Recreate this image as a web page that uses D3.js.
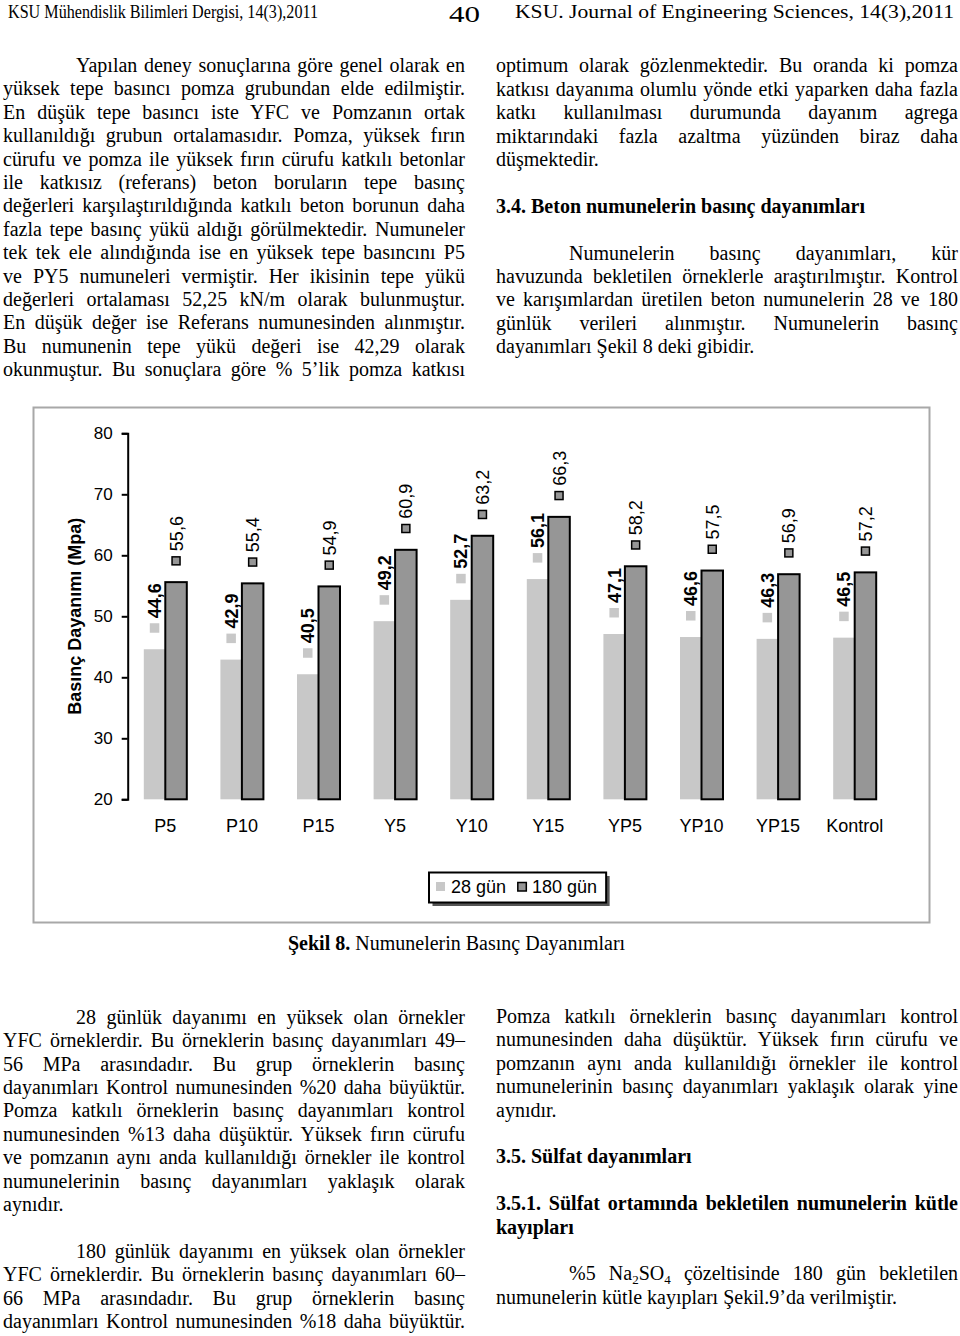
<!DOCTYPE html>
<html><head><meta charset="utf-8">
<script src="https://cdn.jsdelivr.net/npm/d3@7"></script>
<style>
html,body{margin:0;padding:0;background:#fff;}
body{width:960px;height:1336px;position:relative;overflow:hidden;}
.ln{position:absolute;font-family:"Liberation Serif","Times New Roman",serif;font-size:20px;line-height:23.4px;white-space:nowrap;color:#000;}
.b{font-weight:bold;}
.sub{font-size:13px;position:relative;top:4px;}
svg{position:absolute;left:0;top:0;}
</style></head><body>
<script>
// ---- chart data ----
const categories = ["P5","P10","P15","Y5","Y10","Y15","YP5","YP10","YP15","Kontrol"];
const days28  = [44.6,42.9,40.5,49.2,52.7,56.1,47.1,46.6,46.3,46.5];
const days180 = [55.6,55.4,54.9,60.9,63.2,66.3,58.2,57.5,56.9,57.2];
const seriesNames = ["28 gün","180 gün"];
const yTicks = [20,30,40,50,60,70,80];
const yTitle = "Basınç Dayanımı (Mpa)";
const caption = ["Şekil 8.", " Numunelerin Basınç Dayanımları"];

// ---- page text ----
const headerLeft = "KSU Mühendislik Bilimleri Dergisi, 14(3),2011";
const headerMid = "40";
const headerRight = "KSU. Journal of Engineering Sciences, 14(3),2011";

const topLeft = [
 ["ji","Yapılan deney sonuçlarına göre genel olarak en"],
 ["j","yüksek tepe basıncı pomza grubundan elde edilmiştir."],
 ["j","En düşük tepe basıncı iste YFC ve Pomzanın ortak"],
 ["j","kullanıldığı grubun ortalamasıdır. Pomza, yüksek fırın"],
 ["j","cürufu ve pomza ile yüksek fırın cürufu katkılı betonlar"],
 ["j","ile katkısız (referans) beton boruların tepe basınç"],
 ["j","değerleri karşılaştırıldığında katkılı beton borunun daha"],
 ["j","fazla tepe basınç yükü aldığı görülmektedir. Numuneler"],
 ["j","tek tek ele alındığında ise en yüksek tepe basıncını P5"],
 ["j","ve PY5 numuneleri vermiştir. Her ikisinin tepe yükü"],
 ["j","değerleri ortalaması 52,25 kN/m olarak bulunmuştur."],
 ["j","En düşük değer ise Referans numunesinden alınmıştır."],
 ["j","Bu numunenin tepe yükü değeri ise 42,29 olarak"],
 ["j","okunmuştur. Bu sonuçlara göre % 5’lik pomza katkısı"]
];
const topRight = [
 ["j","optimum olarak gözlenmektedir. Bu oranda ki pomza"],
 ["j","katkısı dayanıma olumlu yönde etki yaparken daha fazla"],
 ["j","katkı kullanılması durumunda dayanım agrega"],
 ["j","miktarındaki fazla azaltma yüzünden biraz daha"],
 ["l","düşmektedir."],
 ["",""],
 ["h","3.4. Beton numunelerin basınç dayanımları"],
 ["",""],
 ["ji","Numunelerin basınç dayanımları, kür"],
 ["j","havuzunda bekletilen örneklerle araştırılmıştır. Kontrol"],
 ["j","ve karışımlardan üretilen beton numunelerin 28 ve 180"],
 ["j","günlük verileri alınmıştır. Numunelerin basınç"],
 ["l","dayanımları Şekil 8 deki gibidir."]
];
const botLeft = [
 ["ji","28 günlük dayanımı en yüksek olan örnekler"],
 ["j","YFC örneklerdir. Bu örneklerin basınç dayanımları 49–"],
 ["j","56 MPa arasındadır. Bu grup örneklerin basınç"],
 ["j","dayanımları Kontrol numunesinden %20 daha büyüktür."],
 ["j","Pomza katkılı örneklerin basınç dayanımları kontrol"],
 ["j","numunesinden %13  daha düşüktür. Yüksek fırın cürufu"],
 ["j","ve pomzanın aynı anda kullanıldığı örnekler ile kontrol"],
 ["j","numunelerinin basınç dayanımları yaklaşık olarak"],
 ["l","aynıdır."],
 ["",""],
 ["ji","180 günlük dayanımı en yüksek olan örnekler"],
 ["j","YFC örneklerdir. Bu örneklerin basınç dayanımları 60–"],
 ["j","66 MPa arasındadır. Bu grup örneklerin basınç"],
 ["j","dayanımları Kontrol numunesinden %18 daha büyüktür."]
];
const botRight = [
 ["j","Pomza katkılı örneklerin basınç dayanımları kontrol"],
 ["j","numunesinden daha düşüktür. Yüksek fırın cürufu ve"],
 ["j","pomzanın aynı anda kullanıldığı örnekler ile kontrol"],
 ["j","numunelerinin basınç dayanımları yaklaşık olarak yine"],
 ["l","aynıdır."],
 ["",""],
 ["h","3.5. Sülfat dayanımları"],
 ["",""],
 ["hj","3.5.1. Sülfat ortamında bekletilen numunelerin kütle"],
 ["h","kayıpları"],
 ["",""],
 ["jiS","%5 Na|2|SO|4| çözeltisinde 180 gün bekletilen"],
 ["l","numunelerin kütle kayıpları Şekil.9’da verilmiştir."]
];

const body = d3.select("body");
const LH = 23.4, ASC = 18.45, COLW = 462, IND = 73;

function block(lines, x, base0){
  lines.forEach((ln,i)=>{
    const [type, txt] = ln;
    if(!type) return;
    const ind = type.includes("i") ? IND : 0;
    const div = body.append("div").attr("class","ln" + (type.includes("h") ? " b" : ""))
      .style("left",(x+ind)+"px").style("top",(base0 + i*LH - ASC)+"px");
    if(type.includes("S")){
      txt.split("|").forEach((p,k)=>{
        div.append("span").attr("class", k%2 ? "sub" : null).text(p);
      });
    } else div.text(txt);
    if(type.includes("j")){
      const W = COLW - ind;
      const nat = div.node().getBoundingClientRect().width;
      const n = (txt.replace(/\s+/g," ").match(/ /g)||[]).length;
      if(n>0) div.style("word-spacing", ((W-nat)/n)+"px");
    }
  });
}
block(topLeft, 3, 72.5);
block(topRight, 496, 72.8);
block(botLeft, 3, 1024.3);
block(botRight, 496, 1023.5);

// caption
const cap = body.append("div").attr("class","ln").style("left","288px").style("top",(950-ASC)+"px");
cap.append("span").attr("class","b").text(caption[0]);
cap.append("span").text(caption[1]);

// ---- SVG: header + chart ----
const svg = body.append("svg").attr("width",960).attr("height",1336);
const serif = "'Liberation Serif','Times New Roman',serif";
const sans = "'Liberation Sans',Arial,Helvetica,sans-serif";
svg.append("text").attr("x",8).attr("y",17.5).attr("font-family",serif).attr("font-size",18)
  .attr("textLength",310).attr("lengthAdjust","spacingAndGlyphs").text(headerLeft);
svg.append("text").attr("x",449).attr("y",22).attr("font-family",serif).attr("font-size",24)
  .attr("textLength",31).attr("lengthAdjust","spacingAndGlyphs").text(headerMid);
svg.append("text").attr("x",515).attr("y",17.5).attr("font-family",serif).attr("font-size",18)
  .attr("textLength",439).attr("lengthAdjust","spacingAndGlyphs").text(headerRight);

// frame
svg.append("rect").attr("x",33.5).attr("y",407.5).attr("width",896).attr("height",515)
  .attr("fill","none").attr("stroke","#a8a8a8").attr("stroke-width",2);

const y = d3.scaleLinear().domain([20,80]).range([799.3,433.3]);
const x0 = d3.scaleBand().domain(categories).range([127,893]);
const BW = 21.5;
const colors = ["#c8c8c8","#969696"];
const rows = categories.map((c,i)=>({c, vals:[days28[i], days180[i]]}));
const flat = [];
rows.forEach(r=>r.vals.forEach((v,s)=>flat.push({c:r.c, v, s})));
const cx = d => x0(d.c) + x0.bandwidth()/2 + (d.s===0 ? -BW/2 : BW/2);
const fmt = v => d3.format(".1f")(v).replace(".",",");

const g = svg.append("g");
// bars
g.selectAll("rect.bar").data(flat.slice().sort((a,b)=>a.s-b.s)).join("rect").attr("class","bar")
  .attr("x", d => cx(d) - BW/2).attr("width", BW)
  .attr("y", d => y(d.v)).attr("height", d => y(20) - y(d.v))
  .attr("fill", d => colors[d.s])
  .attr("stroke", d => d.s ? "#000" : "none").attr("stroke-width", 2);

// labels
const lbl = g.selectAll("g.lbl").data(flat).join("g").attr("class","lbl")
  .attr("transform", d => `translate(${cx(d)},${y(d.v)}) rotate(-90)`);
lbl.append("rect")
  .attr("x", d => d.s ? 17.3 : 16.5).attr("y", d => d.s ? -4 : -4.75)
  .attr("width", d => d.s ? 8 : 9.5).attr("height", d => d.s ? 8 : 9.5)
  .attr("fill", d => colors[d.s]).attr("stroke", d => d.s ? "#000" : "none").attr("stroke-width",1.5);
lbl.append("text").attr("x",31).attr("dy","0.36em")
  .attr("font-family",sans).attr("font-size",18).attr("font-weight", d => d.s ? "normal" : "bold")
  .attr("fill","#000").text(d => fmt(d.v));

// y axis
const ax = svg.append("g").attr("transform","translate(127.7,0)")
  .call(d3.axisLeft(y).tickValues(yTicks).tickSize(6).tickPadding(9).tickFormat(d3.format("d")));
ax.selectAll("path,line").attr("stroke","#000").attr("stroke-width",2);
ax.selectAll("text").attr("font-family",sans).attr("font-size",17).attr("fill","#000");

// y title
svg.append("text").attr("transform",`translate(75,${(y(20)+y(80))/2}) rotate(-90)`)
  .attr("text-anchor","middle").attr("dy","0.36em")
  .attr("font-family",sans).attr("font-size",18).attr("font-weight","bold").text(yTitle);

// category labels
svg.selectAll("text.cat").data(categories).join("text").attr("class","cat")
  .attr("x", d => x0(d) + x0.bandwidth()/2).attr("y", 832)
  .attr("text-anchor","middle").attr("font-family",sans).attr("font-size",18).text(d=>d);

// legend
const lg = svg.append("g");
const shadow = lg.append("rect").attr("fill","#555");
const box = lg.append("rect").attr("fill","#fff").attr("stroke","#000").attr("stroke-width",2);
let lx = 436;
seriesNames.forEach((nm,s)=>{
  lg.append("rect").attr("x", s ? lx+0.75 : lx).attr("y", s ? 882.5 : 882)
    .attr("width", s ? 8.5 : 9).attr("height", s ? 8.5 : 9)
    .attr("fill",colors[s]).attr("stroke", s ? "#000" : "none").attr("stroke-width",1.5);
  const t = lg.append("text").attr("x",lx+15).attr("y",893).attr("font-family",sans)
    .attr("font-size",18).text(nm);
  lx = lx + 15 + t.node().getComputedTextLength() + 11;
});
const bx = 429, by = 872.5, bw = (lx - 11 + 9) - bx, bh = 30;
box.attr("x",bx).attr("y",by).attr("width",bw).attr("height",bh);
shadow.attr("x",bx+3.5).attr("y",by+3.5).attr("width",bw).attr("height",bh);
</script>
</body></html>
